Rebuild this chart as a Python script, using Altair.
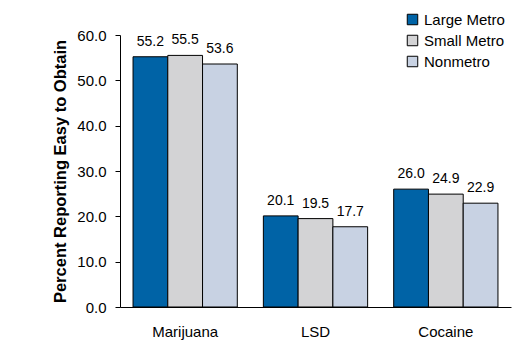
import altair as alt
import pandas as pd

drugs = ["Marijuana", "LSD", "Cocaine"]
groups = ["Large Metro", "Small Metro", "Nonmetro"]
large_metro = [55.2, 20.1, 26.0]
small_metro = [55.5, 19.5, 24.9]
nonmetro = [53.6, 17.7, 22.9]
colors = ["#0063A6", "#D3D3D5", "#C8D2E3"]
y_ticks = [0, 10, 20, 30, 40, 50, 60]

rows = []
for i, d in enumerate(drugs):
    for g, vals in zip(groups, [large_metro, small_metro, nonmetro]):
        rows.append({"drug": d, "group": g, "value": vals[i]})
df = pd.DataFrame(rows)

FONT = "Liberation Sans"

x = alt.X("drug:N", sort=drugs, title=None,
          scale=alt.Scale(paddingInner=0.2, paddingOuter=0.1),
          axis=alt.Axis(labelAngle=0, ticks=False, labelPadding=17, labelFontSize=15,
                        labelFont=FONT, labelColor="black", domainColor="black"))
xo = alt.XOffset("group:N", sort=groups, scale=alt.Scale(paddingInner=0, paddingOuter=0))
y = alt.Y("value:Q", title="Percent Reporting Easy to Obtain",
          scale=alt.Scale(domain=[0, 60], nice=False),
          axis=alt.Axis(values=y_ticks, format=".1f", grid=False, tickSize=5,
                        labelPadding=9, labelFontSize=15, labelFont=FONT, labelColor="black",
                        tickColor="black", domainColor="black",
                        titleFont=FONT, titleFontSize=16.5, titleFontWeight="bold",
                        titleColor="black", titlePadding=8))

base = alt.Chart(df).encode(x=x, xOffset=xo, y=y)

bars = base.mark_bar(stroke="black", strokeWidth=1).encode(
    color=alt.Color("group:N", sort=groups,
                    scale=alt.Scale(domain=groups, range=colors),
                    legend=alt.Legend(title=None, orient="none", legendX=285, legendY=-23,
                                      symbolType="square", symbolSize=110,
                                      symbolStrokeColor="black", symbolStrokeWidth=1,
                                      labelFont=FONT, labelFontSize=15, labelColor="black",
                                      rowPadding=5, labelOffset=4))
)

labels = base.mark_text(dy=-11, baseline="alphabetic", font=FONT, fontSize=14, color="black").encode(
    text=alt.Text("value:Q", format=".1f")
)

chart = (bars + labels).properties(
    width=391, height=272,
    padding={"left": 120, "top": 35, "right": 16, "bottom": 44},
    autosize=alt.AutoSizeParams(type="none"),
).configure_view(stroke=None).configure_axis(labelFont=FONT)

chart.save("out.html", embed_options={"renderer": "svg", "actions": False})
